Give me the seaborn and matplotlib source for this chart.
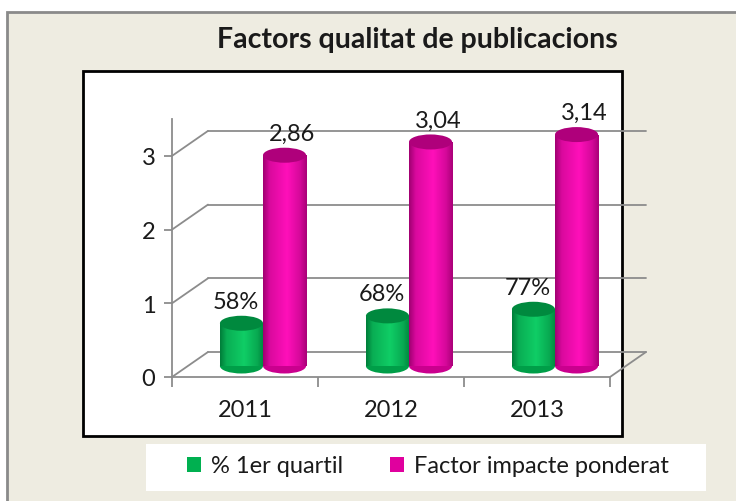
import numpy as np
import pandas as pd
import matplotlib
matplotlib.use("Agg")
import matplotlib.pyplot as plt
import matplotlib.transforms as mtrans
from matplotlib.patches import Rectangle, Ellipse
from matplotlib.lines import Line2D
import matplotlib.colors as mcolors
import seaborn as sns

years = ["2011", "2012", "2013"]
series = ["% 1er quartil", "Factor impacte ponderat"]
quartil = [0.58, 0.68, 0.77]
impacte = [2.86, 3.04, 3.14]
y_ticks = [0, 1, 2, 3]

green = "#00B050"
magenta = "#E0009E"
grid_col = "#8C8C8C"
beige = "#EEECE1"
txt = "#1A1A1A"
fs = 17

sns.set_theme(style="white")
plt.rcParams["font.family"] = ["Lato", "DejaVu Sans"]

df = pd.DataFrame({
    "year": years * 2,
    "series": [series[0]] * 3 + [series[1]] * 3,
    "value": quartil + impacte,
})

W, H = 736, 502
fig = plt.figure(figsize=(W / 100, H / 100), dpi=100)
fig.patch.set_facecolor("white")


def fr(x0, y0, x1, y1):
    # pixel box (top-left origin) -> figure fraction rect
    return (x0 / W, 1 - y1 / H, (x1 - x0) / W, (y1 - y0) / H)


def add_box(x0, y0, x1, y1, **kw):
    l, b, w, h = fr(x0, y0, x1, y1)
    fig.add_artist(Rectangle((l, b), w, h, transform=fig.transFigure, zorder=-5, **kw))


add_box(7, 13, 745, 510, facecolor=beige, edgecolor="#8A8A8A", linewidth=2)
add_box(83, 72, 622, 437, facecolor="white", edgecolor="black", linewidth=2)
add_box(146, 445, 706, 492, facecolor="white", edgecolor="none")

fig.text(417 / W, 1 - 40 / H, "Factors qualitat de publicacions", ha="center",
         va="center", fontsize=20.5, fontweight="bold", color=txt)

ymax = 3.5
ax = fig.add_axes(fr(172, 378 - ymax * 73.7, 610, 378))
ax.set_facecolor("none")
ax.set_zorder(2)

sns.barplot(data=df, x="year", y="value", hue="series", hue_order=series,
            palette=[green, magenta], width=0.59, dodge=True, saturation=1,
            ax=ax, legend=False)

ax.set_xlim(-0.5, 2.5)
ax.set_ylim(0, ymax)

# depth offsets (pixels): bars sit halfway, back wall at full depth
mid = mtrans.offset_copy(ax.transData, fig, x=18, y=11, units="dots")
back = mtrans.offset_copy(ax.transData, fig, x=36, y=25, units="dots")

# back wall and side wall gridlines
for v in y_ticks:
    ax.add_line(Line2D([-0.5, 2.5], [v, v], transform=back, color=grid_col,
                       lw=1.3, zorder=0.5, clip_on=False))
for v in y_ticks:
    p0 = ax.transData.transform((-0.5, v))
    p1 = back.transform((-0.5, v))
    fig.add_artist(Line2D([p0[0] / W, p1[0] / W], [p0[1] / H, p1[1] / H],
                          transform=fig.transFigure, color=grid_col, lw=1.3, zorder=1))
p0 = ax.transData.transform((2.5, 0))
p1 = back.transform((2.5, 0))
fig.add_artist(Line2D([p0[0] / W, p1[0] / W], [p0[1] / H, p1[1] / H],
                      transform=fig.transFigure, color=grid_col, lw=1.3, zorder=1))

cap_h = 15 / 73.7
bars = [p for p in ax.patches if isinstance(p, Rectangle)]
colors = [green] * 3 + [magenta] * 3
values = quartil + impacte
for i, (p, col, val) in enumerate(zip(bars, colors, values)):
    z = 2 if i < 3 else 3
    x0, w, h = p.get_x(), p.get_width(), p.get_height()
    p.set_transform(mid)
    p.set_zorder(z)
    p.set_edgecolor("none")
    base = np.array(mcolors.to_rgb(col))
    dark = base * 0.72
    light = np.clip(base * 1.08 + 0.06, 0, 1)
    t = np.linspace(0, 1, 60)
    shade = np.interp(t, [0, 0.15, 0.55, 0.85, 1], [0.0, 0.6, 1.0, 0.55, 0.1])
    grad = (dark[None, :] + (light - dark)[None, :] * shade[:, None])[None, :, :]
    im = ax.imshow(grad, extent=[x0, x0 + w, 0, h], aspect="auto",
                   transform=mid, zorder=z + 0.05, interpolation="bilinear")
    im.set_clip_path(p)
    bot = Ellipse((x0 + w / 2, 0), w, cap_h, transform=mid,
                  facecolor=base * 0.9, edgecolor="none", zorder=z)
    top = Ellipse((x0 + w / 2, h), w, cap_h, transform=mid,
                  facecolor=base * 0.78, edgecolor="none", zorder=z + 0.1)
    ax.add_patch(bot)
    ax.add_patch(top)
    if i < 3:
        label, dx = f"{val * 100:.0f}%", -6
    else:
        label, dx = f"{val:.2f}".replace(".", ","), 8
    ax.annotate(label, (x0 + w / 2, h), xycoords=mid, xytext=(dx, 22),
                textcoords="offset pixels", ha="center", va="center",
                fontsize=fs, color=txt, zorder=5, annotation_clip=False)

ax.set_xlim(-0.5, 2.5)
ax.set_ylim(0, ymax)
ax.set_yticks(y_ticks)
ax.set_yticklabels([str(v) for v in y_ticks])
ax.set_xticks(range(3))
ax.set_xticklabels(years)
ax.set_xticks([-0.5, 0.5, 1.5, 2.5], minor=True)
ax.tick_params(axis="x", which="major", length=0, pad=16, labelsize=fs,
               labelcolor=txt)
ax.tick_params(axis="x", which="minor", length=7, width=1.3, color=grid_col,
               bottom=True)
ax.tick_params(axis="y", length=6, width=1.3, color=grid_col, left=True, pad=6,
               labelsize=fs, labelcolor=txt)
ax.set_xlabel("")
ax.set_ylabel("")
for s in ["top", "right"]:
    ax.spines[s].set_visible(False)
for s in ["left", "bottom"]:
    ax.spines[s].set_color(grid_col)
    ax.spines[s].set_linewidth(1.3)

handles = [Rectangle((0, 0), 1, 1, facecolor=c, edgecolor="none") for c in [green, magenta]]
fig.legend(handles, series, loc="center", bbox_to_anchor=(428 / W, 1 - 467 / H),
           ncol=2, frameon=False, fontsize=fs, handlelength=0.6, handleheight=0.6,
           handletextpad=0.4, columnspacing=2.0, labelcolor=txt)

fig.savefig("out.png", dpi=100, facecolor=fig.get_facecolor())
